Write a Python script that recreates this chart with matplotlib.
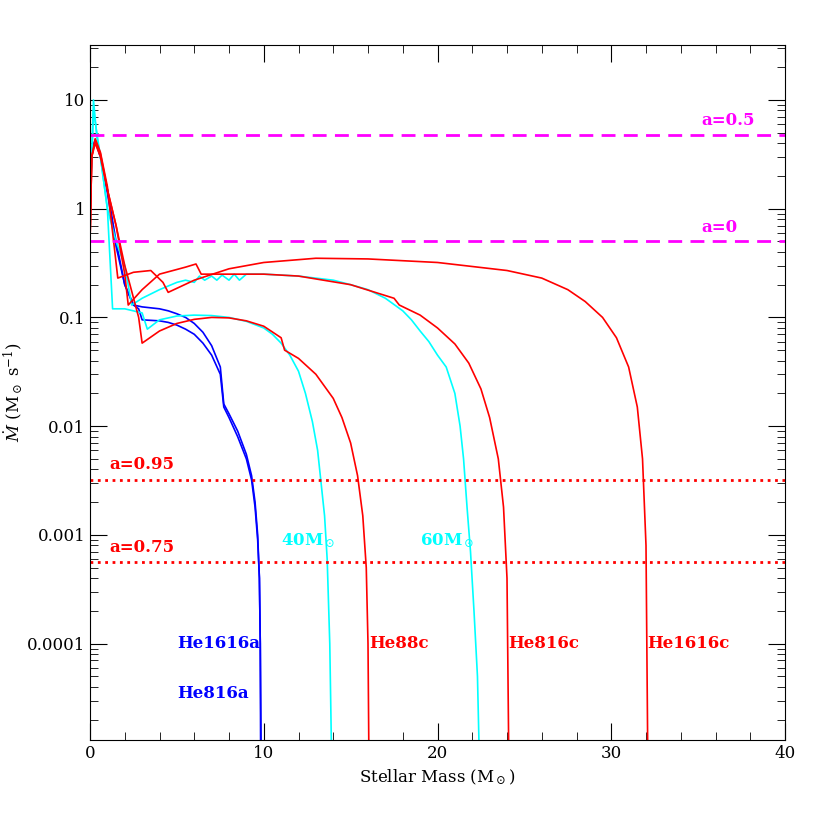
import matplotlib
matplotlib.use("Agg")
import matplotlib.pyplot as plt
from matplotlib.ticker import FixedLocator, FixedFormatter, MultipleLocator, LogLocator

# Courbes (masse stellaire, Mdot)
he816a_x = [0, 0.1, 0.3, 0.6, 1.0, 1.5, 2.0, 2.5, 3.0, 4.0, 4.5, 5.0, 5.5, 6.0, 6.5, 7.0, 7.5, 7.7, 8.0, 8.5, 9.0, 9.3, 9.5, 9.65, 9.75, 9.8, 9.82]
he816a_y = [1.0, 3.5, 4.3, 3.0, 1.5, 0.5, 0.2, 0.13, 0.125, 0.12, 0.115, 0.108, 0.1, 0.088, 0.073, 0.055, 0.035, 0.016, 0.013, 0.009, 0.0055, 0.0035, 0.002, 0.001, 0.0004, 0.0001, 1e-5]
he1616a_x = [0, 0.1, 0.3, 0.6, 1.0, 1.5, 2.0, 2.5, 2.8, 3.0, 4.0, 4.5, 5.0, 5.5, 6.0, 6.5, 7.0, 7.5, 7.7, 8.0, 8.5, 9.0, 9.3, 9.5, 9.65, 9.75, 9.8, 9.85]
he1616a_y = [1.0, 3.5, 4.2, 3.0, 1.4, 0.45, 0.2, 0.13, 0.12, 0.095, 0.093, 0.09, 0.085, 0.078, 0.07, 0.058, 0.045, 0.03, 0.015, 0.012, 0.008, 0.005, 0.0032, 0.0018, 0.0009, 0.0004, 0.0001, 1e-5]
m40_x = [0, 0.2, 0.4, 0.6, 1.0, 1.3, 2.0, 3.0, 3.3, 4.0, 5.0, 6.0, 7.0, 8.0, 9.0, 10.0, 10.5, 11.0, 11.5, 12.0, 12.4, 12.8, 13.1, 13.3, 13.5, 13.65, 13.8, 13.9]
m40_y = [1.0, 10.0, 4.5, 3.0, 1.0, 0.12, 0.12, 0.11, 0.078, 0.095, 0.103, 0.105, 0.104, 0.1, 0.092, 0.08, 0.07, 0.058, 0.045, 0.032, 0.02, 0.011, 0.006, 0.003, 0.0015, 0.0006, 0.0001, 1e-5]
m60_x = [0, 0.2, 0.6, 1.0, 1.5, 2.0, 2.4, 3.0, 4.0, 5.0, 5.5, 6.0, 6.3, 6.6, 7.0, 7.3, 7.6, 8.0, 8.3, 8.6, 9.0, 10.0, 12.0, 14.0, 15.0, 16.0, 17.0, 18.0, 18.5, 19.0, 19.5, 20.0, 20.5, 21.0, 21.3, 21.5, 21.7, 21.9, 22.1, 22.3, 22.4]
m60_y = [1.0, 8.0, 3.0, 1.0, 0.5, 0.3, 0.13, 0.15, 0.18, 0.21, 0.22, 0.21, 0.24, 0.22, 0.24, 0.22, 0.245, 0.22, 0.25, 0.22, 0.25, 0.25, 0.24, 0.22, 0.2, 0.18, 0.15, 0.115, 0.095, 0.075, 0.06, 0.045, 0.035, 0.02, 0.01, 0.005, 0.0018, 0.0007, 0.0002, 0.00005, 1e-5]
he88c_x = [0, 0.1, 0.3, 0.6, 1.0, 1.5, 2.0, 2.3, 2.8, 3.0, 4.0, 5.0, 6.0, 7.0, 8.0, 9.0, 10.0, 11.0, 11.2, 12.0, 13.0, 14.0, 14.5, 15.0, 15.4, 15.7, 15.9, 16.0, 16.05]
he88c_y = [0.5, 3.0, 4.0, 3.0, 1.5, 0.7, 0.3, 0.2, 0.1, 0.058, 0.075, 0.088, 0.096, 0.1, 0.099, 0.093, 0.083, 0.065, 0.05, 0.042, 0.03, 0.018, 0.012, 0.007, 0.0035, 0.0015, 0.0005, 0.0001, 1e-5]
he816c_x = [0, 0.1, 0.3, 0.6, 1.0, 1.5, 2.0, 2.2, 3.0, 4.0, 5.5, 6.1, 6.4, 8.0, 10.0, 12.0, 15.0, 17.5, 17.8, 19.0, 20.0, 21.0, 21.8, 22.5, 23.0, 23.5, 23.8, 24.0, 24.1]
he816c_y = [0.5, 3.0, 4.2, 3.2, 1.5, 0.7, 0.25, 0.13, 0.18, 0.25, 0.29, 0.31, 0.25, 0.25, 0.25, 0.24, 0.2, 0.15, 0.13, 0.105, 0.08, 0.057, 0.038, 0.022, 0.012, 0.005, 0.0018, 0.0004, 1e-5]
he1616c_x = [0, 0.1, 0.3, 0.6, 1.0, 1.6, 2.5, 3.5, 4.2, 4.5, 6.0, 8.0, 10.0, 13.0, 16.0, 20.0, 24.0, 26.0, 27.5, 28.5, 29.5, 30.3, 31.0, 31.5, 31.8, 32.0, 32.1]
he1616c_y = [0.5, 3.0, 4.4, 3.3, 1.6, 0.23, 0.26, 0.27, 0.21, 0.17, 0.22, 0.28, 0.32, 0.35, 0.345, 0.32, 0.27, 0.23, 0.18, 0.14, 0.1, 0.065, 0.035, 0.015, 0.005, 0.0008, 1e-5]

seuils_a = {"a=0.5": 4.8, "a=0": 0.5}
seuils_b = {"a=0.95": 0.0032, "a=0.75": 0.00056}

yticks = [1e-4, 1e-3, 1e-2, 0.1, 1, 10]
yticklabels = ["0.0001", "0.001", "0.01", "0.1", "1", "10"]

plt.rcParams["font.family"] = "DejaVu Serif"
plt.rcParams["mathtext.fontset"] = "dejavuserif"
fig = plt.figure(figsize=(8.3, 8.3), dpi=100)
ax = fig.add_axes([90/830, 90/830, 695/830, 695/830])

lw = 1.2
ax.plot(he816a_x, he816a_y, color="blue", lw=lw)
ax.plot(he1616a_x, he1616a_y, color="blue", lw=lw)
ax.plot(m40_x, m40_y, color="cyan", lw=lw)
ax.plot(m60_x, m60_y, color="cyan", lw=lw)
ax.plot(he88c_x, he88c_y, color="red", lw=lw)
ax.plot(he816c_x, he816c_y, color="red", lw=lw)
ax.plot(he1616c_x, he1616c_y, color="red", lw=lw)

for lab, v in seuils_a.items():
    ax.axhline(v, color="magenta", ls=(0, (5, 3)), lw=2)
    ax.text(35.2, v * 1.12, lab, color="magenta", fontsize=12, fontweight="bold", va="bottom")
for lab, v in seuils_b.items():
    ax.axhline(v, color="red", ls=":", lw=2)
    ax.text(3.0, v * 1.15, lab, color="red", fontsize=12, fontweight="bold", va="bottom", ha="center")

ax.text(11.0, 8e-4, r"40M$_\odot$", color="cyan", fontsize=12, fontweight="bold")
ax.text(19.0, 8e-4, r"60M$_\odot$", color="cyan", fontsize=12, fontweight="bold")
ax.text(5.0, 1e-4, "He1616a", color="blue", fontsize=12, fontweight="bold", va="center")
ax.text(5.0, 3.5e-5, "He816a", color="blue", fontsize=12, fontweight="bold", va="center")
ax.text(16.1, 1e-4, "He88c", color="red", fontsize=12, fontweight="bold", va="center")
ax.text(24.1, 1e-4, "He816c", color="red", fontsize=12, fontweight="bold", va="center")
ax.text(32.1, 1e-4, "He1616c", color="red", fontsize=12, fontweight="bold", va="center")

ax.set_yscale("log")
ax.set_xlim(0, 40)
ax.set_ylim(1.3e-5, 32)
ax.yaxis.set_major_locator(FixedLocator(yticks))
ax.yaxis.set_major_formatter(FixedFormatter(yticklabels))
ax.yaxis.set_minor_locator(LogLocator(base=10, subs=range(2, 10)))
ax.yaxis.set_minor_formatter(FixedFormatter([]))
ax.xaxis.set_major_locator(MultipleLocator(10))
ax.xaxis.set_minor_locator(MultipleLocator(2))
ax.tick_params(which="both", direction="in", top=True, right=True, labelsize=12)
ax.tick_params(which="major", length=12)
ax.tick_params(which="minor", length=6)
ax.set_xlabel(r"Stellar Mass (M$_\odot$)", fontsize=12)
ax.set_ylabel(r"$\dot{M}$ (M$_\odot$ s$^{-1}$)", fontsize=12, labelpad=2)

fig.savefig("out.png", dpi=100)
